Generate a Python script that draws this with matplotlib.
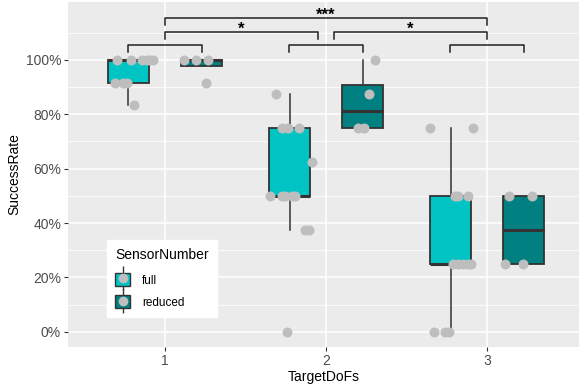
import matplotlib.pyplot as plt
import numpy as np
import matplotlib.ticker as ticker
from matplotlib.patches import Patch
from matplotlib.lines import Line2D
from matplotlib.legend_handler import HandlerTuple

plt.rcParams['font.family'] = ['Liberation Sans', 'DejaVu Sans']

# data (success rate in %) per TargetDoFs and SensorNumber
dofs = [1, 2, 3]
full_vals = [
    [100, 100, 100, 100, 100, 100, 91.67, 91.67, 91.67, 83.33],
    [87.5, 75, 75, 75, 62.5, 50, 50, 50, 50, 50, 37.5, 37.5, 0],
    [75, 75, 50, 50, 50, 25, 25, 25, 25, 25, 0, 0, 0],
]
reduced_vals = [
    [100, 100, 100, 91.67],
    [100, 87.5, 75, 75],
    [50, 50, 25, 25],
]
# jitter offsets of the points
full_jit = [
    [-0.298, -0.211, -0.143, -0.112, -0.093, -0.075, -0.31, -0.261, -0.236, -0.193],
    [-0.311, -0.273, -0.236, -0.168, -0.087, -0.348, -0.273, -0.255, -0.193, -0.21, -0.130, -0.106, -0.242],
    [-0.354, -0.087, -0.199, -0.180, -0.118, -0.211, -0.180, -0.118, -0.099, -0.15, -0.329, -0.261, -0.236],
]
reduced_jit = [
    [0.118, 0.193, 0.267, 0.255],
    [0.304, 0.267, 0.199, 0.236],
    [0.137, 0.280, 0.112, 0.224],
]
# significance brackets: x1, x2, y, label
brackets = [
    (0.77, 1.23, 105.6, ""),
    (1.77, 2.23, 105.6, ""),
    (2.77, 3.23, 105.6, ""),
    (1.0, 1.95, 110.4, "*"),
    (2.05, 3.0, 110.4, "*"),
    (1.0, 3.0, 115.4, "***"),
]

c_full = "#00C4C4"
c_red = "#008080"
edge = "#333333"
dodge = 0.227
bw = 0.255

fig = plt.figure(figsize=(5.79, 3.85), dpi=100)
ax = fig.add_axes([68/579, (385-346.7)/385, (579-68)/579, (346.7-2)/385])
ax.set_facecolor("#EBEBEB")

for vals, off, col in [(full_vals, -dodge, c_full), (reduced_vals, dodge, c_red)]:
    ax.boxplot(vals, positions=[d + off for d in dofs], widths=bw, whis=1.5,
               showfliers=False, patch_artist=True, showcaps=False, manage_ticks=False,
               boxprops=dict(facecolor=col, edgecolor=edge, linewidth=1.3),
               medianprops=dict(color=edge, linewidth=2.2),
               whiskerprops=dict(color=edge, linewidth=1.1),
               zorder=3)

for vals_list, jit_list in [(full_vals, full_jit), (reduced_vals, reduced_jit)]:
    for d, vals, jit in zip(dofs, vals_list, jit_list):
        ax.plot([d + j for j in jit], vals, 'o', color="#BEBEBE", ms=7.2,
                markeredgewidth=0, zorder=4)

for x1, x2, y, lab in brackets:
    ax.plot([x1, x1, x2, x2], [y - 2.7, y, y, y - 2.7], color="#222222", lw=1.1, zorder=5)
    if lab:
        ax.text((x1 + x2) / 2, y + 1.0, lab, ha='center', va='center', fontsize=12,
                fontweight='bold', zorder=5)

ax.set_xlim(0.398, 3.57)
ax.set_ylim(-5.5, 121.3)
ax.set_xticks(dofs)
ax.set_xticklabels([str(d) for d in dofs])
ax.set_yticks([0, 20, 40, 60, 80, 100])
ax.set_yticks([10, 30, 50, 70, 90, 110], minor=True)
ax.yaxis.set_major_formatter(ticker.FuncFormatter(lambda x, p: '{:.0f}%'.format(x)))
ax.grid(which='major', color='white', lw=1.1, zorder=0)
ax.grid(which='minor', axis='y', color='white', lw=0.55, zorder=0)
ax.set_axisbelow(True)
for s in ax.spines.values():
    s.set_visible(False)
ax.tick_params(which='major', length=3, color='#333333', labelsize=10, labelcolor='#4D4D4D', pad=2)
ax.tick_params(which='minor', length=0)
ax.set_xlabel("TargetDoFs", fontsize=10, labelpad=2)
ax.set_ylabel("SuccessRate", fontsize=10, labelpad=3)

handles = []
for col in [c_full, c_red]:
    handles.append((Patch(facecolor='#F2F2F2', edgecolor='none'),
                    Line2D([], [], color=edge, marker='|', ms=17, mew=1.0, linestyle='none'),
                    Patch(facecolor=col, edgecolor=edge, linewidth=1.0),
                    Line2D([], [], color="#BEBEBE", marker='o', ms=7, mew=0, linestyle='none')))
leg = ax.legend(handles, ["full", "reduced"], title="SensorNumber",
                handler_map={tuple: HandlerTuple(ndivide=1, pad=0)},
                loc='lower left', bbox_to_anchor=(0.076, 0.086), borderaxespad=0,
                fontsize=8.5, title_fontsize=10, frameon=True, fancybox=False,
                handlelength=1.3, handleheight=1.3, labelspacing=0.75, handletextpad=1.0,
                borderpad=0.7)
leg.get_frame().set_edgecolor('white')
leg.get_frame().set_facecolor('white')
leg.get_frame().set_alpha(1)
leg._legend_box.align = "left"
leg._legend_box.sep = 8
leg.set_zorder(6)

plt.savefig("out.png", dpi=100)
